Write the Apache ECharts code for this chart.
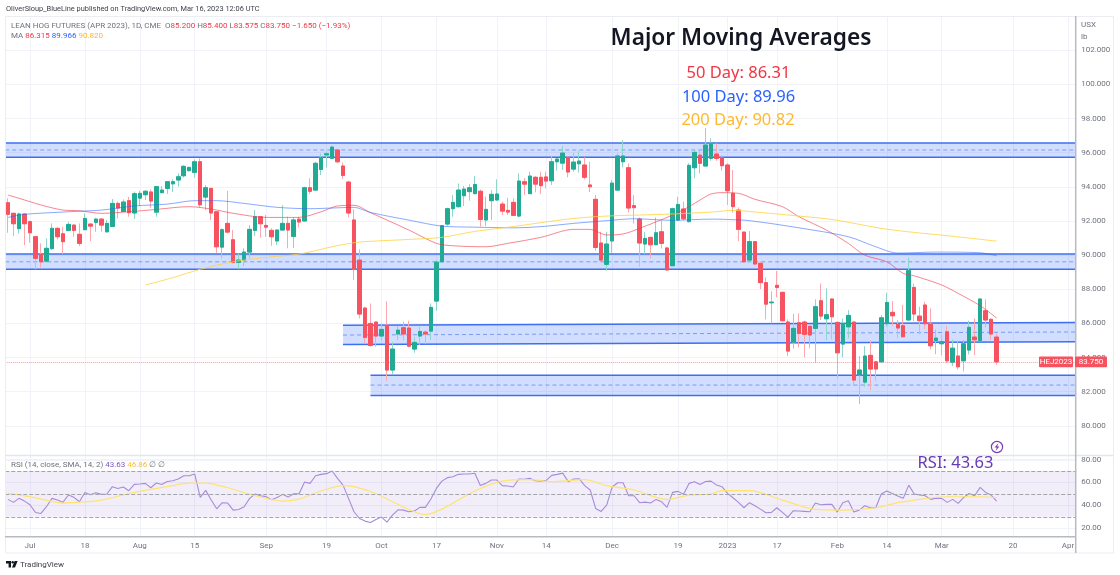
<!DOCTYPE html>
<html>
<head>
<meta charset="utf-8">
<title>Lean Hog Futures</title>
<script src="https://cdn.jsdelivr.net/npm/echarts@6/dist/echarts.min.js"></script>
<style>
    html, body { margin: 0; padding: 0; background: #ffffff; }
    #chart { width: 1120px; height: 575px; }
</style>
</head>
<body>
<div id="chart"></div>
<script>
// open, close, low, high per trading day
const candles = [
    [93.07,92.39,91.31,93.33],[92.45,91.84,91.12,92.49],[91.55,92.41,91.27,92.49],[92.41,91.84,90.59,92.45],[91.96,91.31,90.73,92.02],
    [91.08,89.81,89.17,91.10],[90.04,89.61,89.28,90.69],[89.65,90.40,89.55,90.98],[90.38,91.57,90.30,91.86],[91.57,91.08,90.92,91.63],
    [91.25,90.79,90.06,91.67],[91.45,91.80,91.41,91.96],[91.76,91.45,91.08,91.80],[91.22,90.69,90.53,91.86],[91.49,92.15,91.47,92.45],
    [91.82,91.70,90.83,91.86],[91.92,92.11,91.37,92.19],[92.11,91.76,91.37,92.15],[91.37,91.86,91.31,92.06],[91.68,93.03,91.67,93.29],
    [93.03,92.76,92.15,93.13],[92.56,93.11,92.54,93.27],[93.19,92.49,92.25,93.42],[92.47,93.60,92.13,93.72],[93.34,93.62,92.88,93.78],
    [93.54,93.74,93.23,93.81],[93.70,93.17,92.78,93.85],[92.52,94.01,92.25,94.05],[93.66,93.81,93.62,94.05],[93.91,94.30,93.58,94.34],
    [94.18,94.30,93.70,94.44],[94.40,94.59,94.01,94.79],[94.65,95.20,94.54,95.28],[94.95,95.14,94.89,95.18],[94.85,95.47,94.54,95.61],
    [95.47,92.95,92.80,95.67],[93.40,93.95,92.64,94.11],[93.91,92.47,92.05,93.95],[92.54,90.49,90.14,92.58],[90.47,91.49,89.81,91.57],
    [91.86,91.35,91.27,93.76],[90.90,89.57,89.52,91.47],[89.57,89.71,89.18,90.10],[89.71,90.18,89.36,90.40],[90.18,91.51,89.81,91.76],
    [91.45,92.25,91.12,92.64],[92.25,91.84,91.04,92.29],[91.74,91.64,91.08,92.35],[91.45,91.08,90.55,91.57],[90.83,91.47,90.59,91.51],
    [91.47,91.86,91.45,92.93],[91.86,91.47,90.40,92.25],[91.10,92.06,90.42,92.21],[92.11,91.94,91.63,92.25],[92.00,93.95,91.96,94.01],
    [93.95,93.74,93.58,94.50],[93.81,95.38,93.77,95.47],[95.02,95.71,94.69,95.96],[95.87,95.94,95.14,96.12],[95.67,96.33,95.63,96.41],
    [96.16,95.47,95.38,96.20],[95.22,94.67,94.46,95.43],[94.28,92.47,92.21,94.36],[92.06,89.17,88.54,92.68],[89.71,86.55,86.30,90.34],
    [86.90,85.18,84.83,86.98],[86.00,84.71,84.64,87.17],[86.08,85.26,84.64,86.10],[85.26,85.65,84.99,86.00],[85.89,83.27,82.64,87.29],
    [83.27,84.50,82.98,84.91],[85.38,85.61,85.03,85.85],[85.75,85.38,85.03,86.10],[85.73,84.67,84.60,86.16],[84.50,84.89,84.28,85.22],
    [85.26,85.53,84.73,85.81],[85.49,85.38,84.79,85.61],[85.55,86.94,85.03,87.17],[87.31,89.59,86.74,89.71],[89.61,91.72,89.55,91.76],
    [91.82,92.72,91.72,92.78],[92.72,93.09,92.25,93.52],[92.84,93.81,92.78,94.20],[93.48,93.87,92.88,94.05],[93.72,93.95,93.19,94.16],
    [93.60,94.14,93.58,94.63],[93.74,92.09,91.67,93.85],[92.06,92.68,91.70,93.42],[93.19,93.56,92.06,93.81],[93.23,93.58,93.19,94.44],
    [92.99,92.58,92.35,93.13],[92.62,92.52,92.35,93.36],[93.09,92.33,92.29,93.33],[92.29,94.34,92.21,94.79],[94.30,94.16,93.52,94.50],
    [93.60,94.63,93.58,94.89],[94.56,94.16,93.68,94.63],[94.56,94.07,93.58,94.89],[94.58,94.34,93.91,94.89],[94.36,95.47,94.11,95.81],
    [95.47,95.63,94.95,95.67],[95.39,95.98,94.99,96.39],[95.73,94.87,94.56,95.77],[95.04,95.45,94.89,96.00],[95.35,95.51,94.83,96.12],
    [95.28,94.56,94.44,95.73],[94.11,94.01,93.70,95.47],[93.27,90.45,90.26,93.52],[90.71,89.71,89.62,91.37],[89.46,90.65,89.09,91.37],
    [90.83,94.22,90.14,94.40],[93.81,95.81,93.77,95.96],[95.47,95.81,95.14,96.74],[95.12,92.76,92.49,95.38],[92.90,92.78,91.86,93.52],
    [92.11,90.71,89.32,92.21],[90.65,90.98,90.06,91.37],[91.04,90.61,89.81,91.08],[90.61,91.31,90.59,92.21],[91.37,90.69,90.38,92.02],
    [90.42,89.13,89.09,90.49],[89.38,92.72,89.36,92.78],[92.06,92.97,92.02,93.42],[92.70,92.13,92.06,93.13],[91.96,95.26,91.92,95.38],
    [95.12,96.02,94.50,96.16],[95.86,95.38,94.79,96.12],[95.22,96.45,95.18,97.45],[95.67,96.55,95.53,96.84],[95.92,95.67,95.53,96.55],
    [95.71,95.24,94.95,95.86],[95.28,93.77,92.94,95.38],[93.62,92.84,92.49,94.99],[92.64,91.51,90.83,92.80],[91.35,89.61,89.57,91.37],
    [89.71,90.79,89.57,91.41],[90.79,89.48,89.42,90.83],[89.52,88.39,88.01,89.61],[88.39,87.13,86.24,88.70],[87.21,87.25,86.00,87.88],
    [88.23,88.11,87.53,89.07],[87.82,86.16,86.10,87.86],[86.08,84.38,84.09,86.24],[84.91,85.71,84.52,86.55],[86.04,85.41,84.60,86.59],
    [86.08,85.36,84.01,86.16],[85.83,85.32,84.54,85.87],[85.71,86.98,83.70,87.41],[87.33,86.43,86.20,88.34],[86.27,86.51,85.03,88.05],
    [87.43,86.39,85.07,87.47],[86.06,84.28,82.78,86.10],[84.79,86.00,84.01,86.29],[85.80,86.47,85.13,86.78],[86.08,82.68,82.35,86.12],
    [82.98,83.27,81.27,84.09],[82.56,84.09,82.29,84.67],[84.13,83.33,82.09,84.99],[83.75,83.33,82.64,83.81],[83.75,86.33,83.71,86.49],
    [85.98,87.23,85.81,87.80],[86.65,86.45,85.87,87.31],[85.94,85.73,85.13,86.20],[85.87,85.22,85.18,87.08],[86.20,89.09,86.16,89.87],
    [88.11,86.55,86.14,88.34],[86.43,86.16,85.37,86.98],[87.08,85.98,85.67,87.27],[85.96,84.69,84.48,86.88],[84.99,85.14,84.20,85.65],
    [84.81,84.93,84.13,85.32],[85.51,83.81,83.70,85.85],[83.73,84.55,83.50,85.06],[84.09,83.46,83.31,84.99],[83.81,84.81,83.19,85.03],
    [84.44,85.77,84.19,86.16],[85.20,85.04,84.15,86.29],[84.99,87.43,84.97,87.47],[86.74,86.20,85.77,87.41],[86.24,85.38,85.03,86.29],
    [85.20,83.75,83.575,85.40]
];

// moving averages, read at [bar, price]
const ma50 = [[0,93.52],[2,93.33],[6,92.94],[10,92.64],[13,92.60],[17,92.45],[22,92.54],[27,92.68],[33,92.84],[37,92.70],[41,92.45],[47,92.21],[53,92.21],[57,92.54],[60,92.88],[63,92.92],[66,92.49],[73,91.47],[78,90.69],[81,90.55],[87,90.49],[91,90.69],[97,91.04],[103,91.51],[106,91.51],[109,91.18],[112,91.24],[115,91.57],[121,92.35],[124,92.84],[126,93.23],[128,93.58],[130,93.66],[133,93.62],[136,93.27],[141,92.84],[144,92.25],[149,91.47],[153,90.69],[156,90.00],[160,89.61],[163,88.93],[165,88.79],[170,88.25],[173,87.76],[177,87.04],[180,86.315]];
const ma100 = [[0,92.21],[3,92.39],[11,92.54],[17,92.64],[23,92.88],[29,92.99],[34,93.19],[38,93.19],[43,93.03],[49,92.80],[55,92.72],[59,92.76],[63,92.80],[66,92.50],[73,92.05],[79,91.70],[85,91.64],[92,91.60],[97,91.67],[103,91.86],[109,92.02],[114,92.13],[121,92.04],[128,92.11],[131,92.09],[135,92.02],[144,91.60],[153,91.08],[158,90.49],[162,90.12],[169,90.18],[177,90.14],[180,89.966]];
const ma200 = [[25,88.25],[30,88.68],[35,89.17],[41,89.61],[47,89.87],[53,90.06],[59,90.49],[63,90.73],[66,90.81],[73,90.92],[79,91.04],[85,91.39],[91,91.63],[97,91.90],[103,92.15],[109,92.29],[115,92.35],[121,92.41],[128,92.52],[132,92.62],[137,92.50],[144,92.29],[150,92.09],[159,91.57],[165,91.33],[171,91.14],[180,90.82]];

const rsi = [45.2,42.6,46.1,43.7,40.5,33.8,32.9,38.8,46.1,44.6,42.6,49.0,47.0,43.1,51.3,49.3,51.0,49.6,49.9,56.3,54.8,56.0,52.8,58.3,58.6,59.2,55.4,59.5,58.3,60.9,61.5,63.0,65.9,65.9,67.4,46.9,53.1,44.6,37.0,42.3,42.0,35.8,36.4,38.8,46.1,49.9,48.4,47.6,44.9,46.9,49.6,47.2,50.1,50.1,60.4,59.2,65.9,67.1,67.7,70.0,63.6,57.7,46.1,34.4,28.5,26.2,25.0,27.7,29.7,25.3,31.5,36.1,35.8,34.4,35.0,38.2,38.2,45.5,54.8,61.2,64.2,65.0,67.1,67.4,67.4,68.0,57.4,59.2,62.1,62.1,57.2,56.9,56.0,63.0,62.7,63.6,61.5,61.2,61.8,66.2,67.1,68.2,60.7,63.0,63.3,57.2,53.4,37.3,34.7,40.2,56.0,59.8,59.8,48.4,48.4,42.3,42.8,42.0,45.2,43.1,38.2,51.3,52.2,49.6,59.2,60.7,58.3,60.9,61.2,57.7,56.3,50.4,46.6,42.6,37.9,42.3,39.6,36.7,33.5,33.8,37.9,33.8,29.7,35.3,35.0,34.7,34.4,42.0,40.5,40.8,40.8,34.1,42.3,44.0,34.1,35.8,39.6,37.9,37.9,49.9,52.5,50.4,48.1,46.1,57.7,49.9,49.0,48.4,45.2,46.3,46.1,42.6,45.2,41.7,46.9,50.4,48.4,55.7,51.3,49.0,43.63];
const rsiMa = [[0,50.4],[5,46.6],[10,42.0],[14,43.1],[17,44.6],[23,51.3],[29,56.3],[33,59.5],[36,59.5],[40,55.4],[45,48.4],[50,43.7],[53,45.5],[57,52.5],[61,57.2],[63,56.3],[67,50.4],[70,43.1],[76,32.0],[79,36.7],[85,52.5],[90,61.2],[95,62.4],[99,60.7],[105,62.4],[109,57.2],[114,53.4],[120,45.2],[124,49.0],[128,49.9],[130,52.8],[135,52.8],[141,44.6],[147,36.4],[152,35.8],[158,37.9],[162,42.3],[165,44.6],[171,47.5],[177,47.5],[180,46.86]];
const rsiLevels = [70, 50, 30];

// shaded support and resistance zones: first bar (-1 = from the pane edge), then price at the left and right end
const zoneStart = [-1, -1, 61, 66];
const zoneUpper = [[96.57,96.57],[90.06,90.06],[85.90,86.06],[82.97,82.97]];
const zoneMiddle = [[96.16,96.16],[89.61,89.61],[85.32,85.50],[82.39,82.39]];
const zoneLower = [[95.73,95.73],[89.17,89.17],[84.77,84.93],[81.78,81.78]];

const barCount = 195;
const tickIndex = [4, 14, 24, 34, 47, 58, 68, 78, 89, 98, 110, 122, 131, 140, 151, 160, 170, 183, 193];
const tickText = ["Jul", "18", "Aug", "15", "Sep", "19", "Oct", "17", "Nov", "14", "Dec", "19", "2023", "17", "Feb", "14", "Mar", "20", "Apr"];

const lastPrice = 83.75;
const FONT = "Roboto, sans-serif";
const NOTE_FONT = "'Noto Sans', sans-serif";
const UP = "#22ab94";
const DOWN = "#f7525f";

const categories = [];
for (let i = 0; i < barCount; i++) {
    const t = tickIndex.indexOf(i);
    categories.push(t >= 0 ? tickText[t] : "b" + i);
}
const isTick = (i) => tickIndex.indexOf(i) >= 0;

const zoneRows = zoneStart.map((start, i) => [i, zoneUpper[i][0]]);
// body layer: same candles with the wicks cut to the body, so wicks below can be paler
const bodies = candles.map((c) => [c[0], c[1], Math.min(c[0], c[1]), Math.max(c[0], c[1])]);

function renderZone(params, api) {
    const z = api.value(0);
    const box = params.coordSys;
    const xl = zoneStart[z] < 0 ? box.x : api.coord([zoneStart[z], 90])[0];
    const xr = box.x + box.width - 1;
    const y = (p) => api.coord([0, p])[1];
    const line = (pair, extra) => ({
        type: "line",
        shape: { x1: xl, y1: y(pair[0]), x2: xr, y2: y(pair[1]) },
        style: Object.assign({ stroke: "#3d6ff2", lineWidth: 1.5 }, extra),
    });
    return {
        type: "group",
        children: [
            {
                type: "polygon",
                shape: {
                    points: [
                        [xl, y(zoneUpper[z][0])], [xr, y(zoneUpper[z][1])],
                        [xr, y(zoneLower[z][1])], [xl, y(zoneLower[z][0])],
                    ],
                },
                style: { fill: "rgba(41,98,255,0.21)" },
            },
            line(zoneUpper[z]),
            line(zoneLower[z]),
            line(zoneMiddle[z], { stroke: "#7b9cf5", lineWidth: 1, lineDash: [4, 3] }),
        ],
    };
}

function text(str, x, y, size, fill, extra) {
    return {
        type: "text",
        z: 20,
        silent: true,
        style: Object.assign({
            text: str, x: x, y: y, fill: fill,
            font: size + "px " + FONT,
            textAlign: "left", textVerticalAlign: "middle",
        }, extra),
    };
}

function maLine(name, data, color, opacity) {
    return {
        name: name,
        type: "line",
        xAxisIndex: 0,
        yAxisIndex: 0,
        data: data,
        smooth: 0.3,
        showSymbol: false,
        silent: true,
        z: 4,
        lineStyle: { color: color, width: 1, opacity: opacity },
    };
}

const gridLine = "#f1f3f9";
const panelLine = "#b7bac3";
const labelColor = "#6f727d";

const hiddenX = (index) => ({
    type: "category",
    gridIndex: index,
    data: categories,
    boundaryGap: true,
    show: false,
});

const chart = echarts.init(document.getElementById("chart"), null, { renderer: "canvas" });

chart.setOption({
    animation: false,
    backgroundColor: "#ffffff",
    grid: [
        { left: 5.25, width: 1071, top: 16.14, height: 443.86 },
        { left: 5.25, width: 1071, top: 459.6, height: 68.6 },
        { left: 5.25, width: 1071, top: 16, height: 520.7 },
    ],
    xAxis: [
        hiddenX(0),
        hiddenX(1),
        {
            type: "category",
            gridIndex: 2,
            data: categories,
            boundaryGap: true,
            axisLine: { show: false },
            axisTick: { show: false },
            splitLine: {
                show: true,
                alignWithLabel: true,
                interval: (i) => isTick(i),
                lineStyle: { color: gridLine, width: 1 },
            },
            axisLabel: {
                interval: (i) => isTick(i),
                hideOverlap: false,
                margin: 5,
                color: labelColor,
                fontSize: 8,
                fontFamily: FONT,
            },
        },
    ],
    yAxis: [
        {
            type: "value",
            gridIndex: 0,
            position: "right",
            min: 78,
            max: 104,
            interval: 2,
            axisLine: { show: false },
            axisTick: { show: false },
            splitLine: { lineStyle: { color: gridLine, width: 1 } },
            axisLabel: {
                showMinLabel: false,
                showMaxLabel: false,
                margin: 5,
                color: labelColor,
                fontSize: 8,
                fontFamily: FONT,
                formatter: (v) => v.toFixed(3),
            },
        },
        {
            type: "value",
            gridIndex: 1,
            position: "right",
            min: 20,
            max: 80,
            interval: 20,
            axisLine: { show: false },
            axisTick: { show: false },
            splitLine: { lineStyle: { color: gridLine, width: 1 } },
            axisLabel: {
                margin: 5,
                color: labelColor,
                fontSize: 8,
                fontFamily: FONT,
                formatter: (v) => v.toFixed(2),
            },
        },
        { type: "value", gridIndex: 2, show: false },
    ],
    series: [
        {
            type: "custom",
            xAxisIndex: 0,
            yAxisIndex: 0,
            renderItem: renderZone,
            data: zoneRows,
            silent: true,
            clip: true,
            z: 1,
        },
        maLine("MA 50", ma50, "#f23645", 0.6),
        maLine("MA 100", ma100, "#2962ff", 0.55),
        maLine("MA 200", ma200, "#ffd23f", 0.8),
        {
            type: "candlestick",
            xAxisIndex: 0,
            yAxisIndex: 0,
            data: candles,
            barWidth: 4,
            silent: true,
            z: 3,
            itemStyle: {
                color: "#8fd5c9",
                color0: "#fba7ad",
                borderColor: "#8fd5c9",
                borderColor0: "#fba7ad",
                borderWidth: 1,
            },
            markLine: {
                silent: true,
                symbol: "none",
                label: { show: false },
                lineStyle: { color: DOWN, type: "dotted", width: 1, opacity: 0.55 },
                data: [{ yAxis: lastPrice }],
            },
        },
        {
            type: "candlestick",
            xAxisIndex: 0,
            yAxisIndex: 0,
            data: bodies,
            barWidth: 4,
            silent: true,
            z: 3,
            itemStyle: {
                color: UP,
                color0: DOWN,
                borderColor: UP,
                borderColor0: DOWN,
                borderWidth: 1,
            },
        },
        {
            name: "RSI",
            type: "line",
            xAxisIndex: 1,
            yAxisIndex: 1,
            data: rsi,
            showSymbol: false,
            silent: true,
            z: 4,
            lineStyle: { color: "#a78bda", width: 1.1 },
            markArea: {
                silent: true,
                itemStyle: { color: "rgba(126,87,194,0.1)" },
                data: [[{ yAxis: rsiLevels[0] }, { yAxis: rsiLevels[2] }]],
            },
            markLine: {
                silent: true,
                symbol: "none",
                label: { show: false },
                lineStyle: { color: "#a3a5ad", type: "dashed", width: 1 },
                data: rsiLevels.map((v) => ({ yAxis: v })),
            },
        },
        {
            name: "RSI MA",
            type: "line",
            xAxisIndex: 1,
            yAxisIndex: 1,
            data: rsiMa,
            smooth: 0.3,
            showSymbol: false,
            silent: true,
            z: 4,
            lineStyle: { color: "#ffe36e", width: 1.2 },
        },
    ],
});

const tagY = chart.convertToPixel({ yAxisIndex: 0 }, lastPrice);
const legendRich = {
    g: { fill: "#6f727d", font: "8px " + FONT },
    r: { fill: "#f23645", font: "8px " + FONT },
    b: { fill: "#2962ff", font: "8px " + FONT },
    y: { fill: "#ffb52e", font: "8px " + FONT },
    p: { fill: "#7e57c2", font: "8px " + FONT },
    l: { fill: "#f5c23a", font: "8px " + FONT },
};

chart.setOption({
    graphic: [
        // frame and pane separators
        { type: "rect", silent: true, z: 10, shape: { x: 5.5, y: 16.5, width: 1108, height: 536.5 }, style: { fill: "none", stroke: "#ebedf3", lineWidth: 1 } },
        { type: "line", silent: true, z: 10, shape: { x1: 5, y1: 455.5, x2: 1113, y2: 455.5 }, style: { stroke: "#e3e5ec", lineWidth: 1.5 } },
        { type: "line", silent: true, z: 10, shape: { x1: 5, y1: 536.8, x2: 1076, y2: 536.8 }, style: { stroke: panelLine, lineWidth: 1.5 } },
        { type: "line", silent: true, z: 10, shape: { x1: 1075.7, y1: 16, x2: 1075.7, y2: 553 }, style: { stroke: panelLine, lineWidth: 1.5 } },

        text("OliverSloup_BlueLine published on TradingView.com, Mar 16, 2023 12:06 UTC", 6, 9, 7.4, "#3b3e47"),
        text("{g|LEAN HOG FUTURES (APR 2023), 1D, CME  O}{r|85.200} {g|H}{r|85.400} {g|L}{r|83.575} {g|C}{r|83.750 −1.650 (−1.93%)}", 11, 25.5, 8, "#6f727d", { rich: legendRich }),
        text("{g|MA} {r|86.315} {b|89.966} {y|90.820}", 11, 36, 8, "#6f727d", { rich: legendRich }),
        text("{g|RSI (14, close, SMA, 14, 2)} {p|43.63} {l|46.86} {g|∅ ∅}", 11, 464.5, 8, "#6f727d", { rich: legendRich }),

        text("USX", 1081, 25, 8, labelColor),
        text("lb", 1081, 37, 8, labelColor),

        text("Major Moving Averages", 741, 38.5, 22.7, "#131722", { textAlign: "center", font: "600 22.7px " + NOTE_FONT }),
        text("50 Day: 86.31", 738.5, 73, 16.5, "#f23645", { textAlign: "center", font: "16.5px " + NOTE_FONT }),
        text("100 Day: 89.96", 738.5, 97.5, 16.5, "#2962ff", { textAlign: "center", font: "16.5px " + NOTE_FONT }),
        text("200 Day: 90.82", 738, 120.5, 16.5, "#ffb92e", { textAlign: "center", font: "16.5px " + NOTE_FONT }),
        text("RSI: 43.63", 955.5, 463, 16.5, "#673ab7", { textAlign: "center", font: "16.5px " + NOTE_FONT }),

        // alert icon over the RSI note
        { type: "circle", silent: true, z: 20, shape: { cx: 997, cy: 447, r: 5.6 }, style: { fill: "#ffffff", stroke: "#7b3fb5", lineWidth: 1.2 } },
        { type: "polygon", silent: true, z: 21, shape: { points: [[998.4, 443], [994.6, 447.6], [996.8, 447.6], [995.6, 451], [999.4, 446.4], [997.2, 446.4]] }, style: { fill: "#7b3fb5" } },

        // last price tags
        { type: "rect", silent: true, z: 20, shape: { x: 1039, y: tagY - 5.3, width: 34, height: 10.6, r: 1 }, style: { fill: DOWN } },
        { type: "rect", silent: true, z: 20, shape: { x: 1075, y: tagY - 5.3, width: 32, height: 10.6, r: 1 }, style: { fill: DOWN } },
        text("HEJ2023", 1056, tagY, 8, "#ffffff", { textAlign: "center" }),
        text("83.750", 1091, tagY, 8, "#ffffff", { textAlign: "center" }),

        // TradingView mark
        { type: "polygon", silent: true, z: 20, shape: { points: [[6, 561], [11, 561], [11, 567.5], [8.6, 567.5], [8.6, 563.4], [6, 563.4]] }, style: { fill: "#131722" } },
        { type: "circle", silent: true, z: 20, shape: { cx: 12.7, cy: 562.3, r: 1.2 }, style: { fill: "#131722" } },
        { type: "polygon", silent: true, z: 20, shape: { points: [[14.6, 561], [17.6, 561], [15, 567.5], [12, 567.5]] }, style: { fill: "#131722" } },
        text("TradingView", 20, 564.5, 8, "#3b3e47"),
    ],
});
</script>
</body>
</html>
